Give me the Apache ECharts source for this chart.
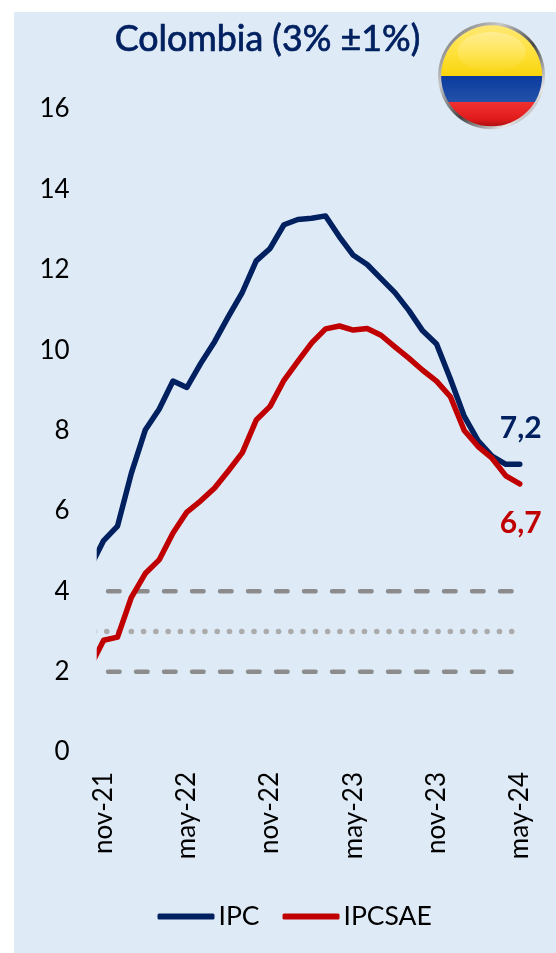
<!DOCTYPE html>
<html><head><meta charset="utf-8">
<style>html,body{margin:0;padding:0;background:#fff}#c{width:556px;height:953px}</style>
<script src="https://cdn.jsdelivr.net/npm/echarts@6/dist/echarts.min.js"></script>
</head><body><div id="c"></div>
<script>
const months=['oct-21','nov-21','dic-21','ene-22','feb-22','mar-22','abr-22','may-22','jun-22','jul-22','ago-22','sep-22','oct-22','nov-22','dic-22','ene-23','feb-23','mar-23','abr-23','may-23','jun-23','jul-23','ago-23','sep-23','oct-23','nov-23','dic-23','ene-24','feb-24','mar-24','abr-24','may-24'];
const ipc=[4.58,5.26,5.62,6.94,8.01,8.53,9.23,9.07,9.67,10.21,10.84,11.44,12.22,12.53,13.12,13.25,13.28,13.34,12.82,12.36,12.13,11.78,11.43,10.99,10.48,10.15,9.28,8.35,7.74,7.36,7.16,7.16];
const ipcsae=[2.1,2.78,2.86,3.85,4.44,4.78,5.45,5.97,6.25,6.57,7.0,7.45,8.26,8.6,9.25,9.72,10.18,10.53,10.6,10.5,10.54,10.37,10.08,9.8,9.5,9.23,8.84,8.0,7.6,7.31,6.87,6.67];
const targetUpper=months.map(()=>4);
const targetMid=months.map(()=>3);
const targetLower=months.map(()=>2);
const yTicks={min:0,max:16,interval:2};
const endLabels={ipc:'7,2',ipcsae:'6,7'};
const titleText='Colombia (3% ±1%)';
const NAVY='#002060',RED='#C00000',PANEL='#DEEAF6',FONT='Lato, "Open Sans", sans-serif';
const chart=echarts.init(document.getElementById('c'),null,{renderer:'canvas'});
function endLabel(txt,color,dy){
  return {show:true,formatter:txt,align:'center',verticalAlign:'middle',offset:[-7,dy],color,fontFamily:FONT,fontWeight:'bold',fontSize:30};
}
function ref(name,data,color,w,dash,off){
  return {name,type:'line',data,showSymbol:false,symbol:'none',silent:true,clip:true,
    lineStyle:{color,width:w,type:dash,dashOffset:off,cap:'round'},z:1};
}
chart.setOption({
  animation:false,
  backgroundColor:'transparent',
  title:{text:titleText,left:262.5,top:16,textAlign:'center',textStyle:{color:NAVY,fontFamily:FONT,fontWeight:'normal',fontSize:35.8,textBorderColor:NAVY,textBorderWidth:0.7}},
  grid:{left:96.7,right:29.3,top:109,bottom:201,containLabel:false},
  legend:{data:['IPC','IPCSAE'],left:152.5,top:898,icon:'roundRect',itemWidth:57,itemHeight:6,itemGap:23,
    textStyle:{color:'#000',fontFamily:FONT,fontSize:26.5,padding:[0,0,0,-1]}},
  xAxis:{type:'category',data:months,min:1,max:31,boundaryGap:true,
    axisLine:{show:false},axisTick:{show:false},splitLine:{show:false},
    axisLabel:{rotate:90,margin:20,color:'#000',fontFamily:FONT,fontSize:26,
      interval:(i)=>(i-1)%6===0,hideOverlap:false,showMinLabel:true,showMaxLabel:true}},
  yAxis:{type:'value',min:yTicks.min,max:yTicks.max,interval:yTicks.interval,
    axisLine:{show:false},axisTick:{show:false},splitLine:{show:false},
    axisLabel:{margin:27,color:'#000',fontFamily:FONT,fontSize:26}},
  series:[
    ref('Meta sup',targetUpper,'#8C8C8C',4.5,[11.5,16.5],9.7),
    ref('Meta',targetMid,'#ABABAB',5.5,[0.1,12.17],7.57),
    ref('Meta inf',targetLower,'#8C8C8C',4.5,[11.5,16.5],9.7),
    {name:'IPC',type:'line',data:ipc,symbol:'none',showSymbol:false,clip:true,z:3,
      endLabel:endLabel(endLabels.ipc,NAVY,-36),
      itemStyle:{color:NAVY},lineStyle:{color:NAVY,width:5.5,cap:'round',join:'round'}},
    {name:'IPCSAE',type:'line',data:ipcsae,symbol:'none',showSymbol:false,clip:true,z:4,
      endLabel:endLabel(endLabels.ipcsae,RED,39),
      itemStyle:{color:RED},lineStyle:{color:RED,width:5.5,cap:'round',join:'round'}}
  ],
  graphic:[
    {type:'rect',z:-10,silent:true,shape:{x:14,y:12,width:542,height:941},style:{fill:PANEL}},
    {type:'rect',z:8,silent:true,shape:{x:78,y:520,width:18.7,height:170},style:{fill:PANEL}},
    {type:'circle',z:10,silent:true,shape:{cx:491.6,cy:75.8,r:53.5},style:{
      fill:new echarts.graphic.LinearGradient(0,0,1,1,[{offset:0,color:'#555'},{offset:.3,color:'#c8c8c8'},{offset:.55,color:'#444'},{offset:.8,color:'#e8e8e8'},{offset:1,color:'#555'}])}},
    {type:'circle',z:11,silent:true,shape:{cx:491.6,cy:75.8,r:50.5},style:{
      fill:new echarts.graphic.LinearGradient(0,0,0,1,[
        {offset:0,color:'#FFE873'},{offset:.28,color:'#FFE13A'},{offset:.5,color:'#F8D40C'},
        {offset:.5,color:'#0A3A9E'},{offset:.76,color:'#2352AA'},
        {offset:.76,color:'#F23030'},{offset:.93,color:'#E01B1B'},{offset:1,color:'#B01010'}])}},
    {type:'ellipse',z:12,silent:true,shape:{cx:491.6,cy:52,rx:34,ry:20},style:{
      fill:new echarts.graphic.LinearGradient(0,0,0,1,[{offset:0,color:'rgba(255,255,255,0.28)'},{offset:1,color:'rgba(255,255,255,0.02)'}])}}
  ]
});
</script></body></html>
